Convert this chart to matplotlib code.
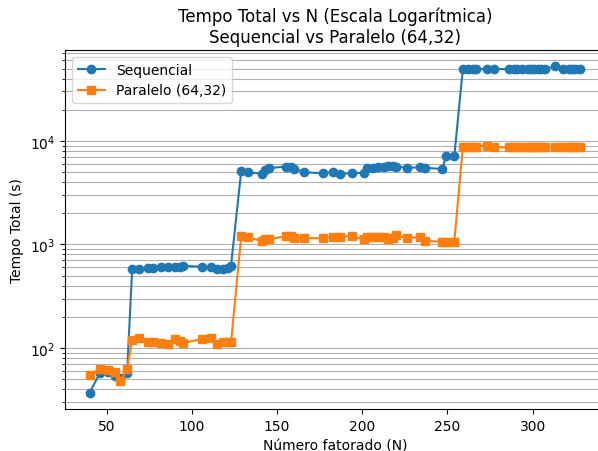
import matplotlib
matplotlib.use("Agg")
import matplotlib.pyplot as plt

# N values (shared by both runs)
n_values = [40, 46, 51, 55, 58, 62,
            65, 69, 74, 77, 82, 86, 90, 93, 95, 106, 111, 115, 118, 121, 123,
            129, 133, 141, 143, 145, 155, 158, 160, 166, 177, 183, 187, 194,
            201, 203, 206, 209, 213, 215, 218, 220, 226, 234, 237, 247, 249, 254,
            259, 262, 265, 267, 273, 277, 286, 289, 291, 294, 297, 299, 301,
            303, 305, 307, 313, 318, 321, 323, 325, 328]

tempo_seq = [37, 57, 58, 54, 51, 57,
             574, 578, 590, 592, 600, 605, 600, 610, 620, 610, 600, 585, 585, 590, 625,
             5150, 5000, 4800, 5250, 5450, 5650, 5550, 5400, 5000, 4850, 5050, 4800, 4900,
             4900, 5450, 5500, 5550, 5650, 5700, 5700, 5650, 5500, 5550, 5500, 5350, 7100, 7150,
             49500, 49500, 49300, 49500, 49400, 49500, 49300, 49500, 49400, 49500, 49400, 49500, 49500,
             49400, 49500, 49300, 52500, 49400, 49300, 49400, 49300, 49400]

tempo_par = [55, 63, 61, 58, 48, 62,
             120, 124, 113, 113, 112, 110, 122, 118, 112, 122, 124, 110, 114, 113, 113,
             1210, 1170, 1080, 1140, 1120, 1200, 1210, 1150, 1150, 1150, 1170, 1190, 1200,
             1120, 1170, 1190, 1170, 1180, 1120, 1150, 1220, 1160, 1170, 1080, 1060, 1050, 1060,
             8800, 8800, 8750, 8800, 9000, 8700, 8650, 8700, 8750, 8750, 8800, 8750, 8800,
             8750, 8800, 8750, 8800, 8750, 8800, 8750, 8800, 8800]

fig = plt.figure(figsize=(5.98, 4.52), dpi=100)
# the original picture is cut on the right, so the axes run past the edge
ax = fig.add_axes([65 / 598, 1 - 410 / 452, 540 / 598, 359 / 452])

ax.plot(n_values, tempo_seq, marker="o", label="Sequencial")
ax.plot(n_values, tempo_par, marker="s", label="Paralelo (64,32)")

ax.set_yscale("log")
ax.set_xlabel("Número fatorado (N)")
ax.set_ylabel("Tempo Total (s)")
ax.set_title("Tempo Total vs N (Escala Logarítmica)\nSequencial vs Paralelo (64,32)")
ax.grid(True, which="both", axis="y")
ax.legend(loc="upper left")

fig.savefig("out.png", dpi=100)
